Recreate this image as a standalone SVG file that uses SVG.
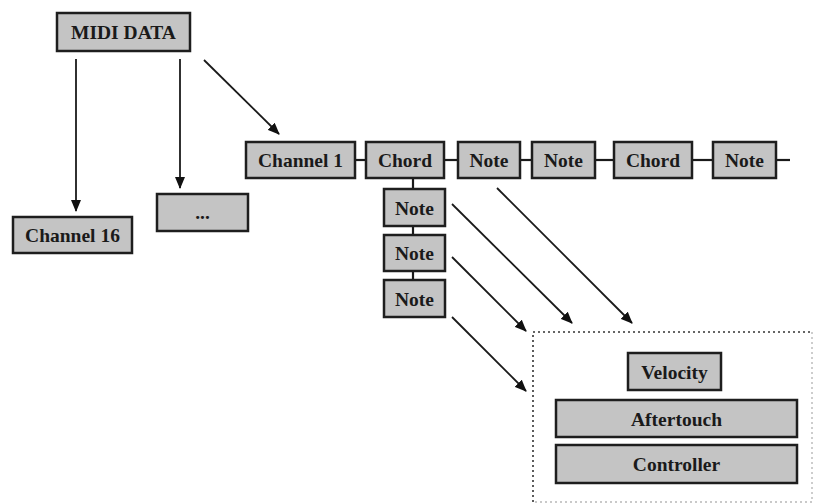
<svg xmlns="http://www.w3.org/2000/svg" width="816" height="504" viewBox="0 0 816 504">
  <style>
    .box { fill: #c4c4c4; stroke: #1e1e1e; stroke-width: 2.5; }
    .lbl { font-family: "Liberation Serif", "Times New Roman", serif; font-weight: bold; font-size: 19.5px; fill: #1a1a1a; text-anchor: middle; dominant-baseline: central; }
    .arrow { stroke: #1a1a1a; stroke-width: 1.8; fill: none; marker-end: url(#head); }
    .link { stroke: #1a1a1a; stroke-width: 2.2; fill: none; }
    .frame { fill: none; stroke: #333; stroke-width: 1.6; stroke-dasharray: 2 3; }
    .frame-faint { fill: none; stroke: #b8b8b8; stroke-width: 1.4; stroke-dasharray: 2 3; }
  </style>
  <defs>
    <marker id="head" viewBox="0 0 12 10" refX="11" refY="5" markerWidth="12" markerHeight="10" markerUnits="userSpaceOnUse" orient="auto">
      <path d="M0,0 L12,5 L0,10 Z" fill="#111"/>
    </marker>
  </defs>

  <!-- connectors -->
  <g id="connectors">
    <line class="arrow" x1="76" y1="59" x2="76" y2="211"/>
    <line class="arrow" x1="180" y1="59" x2="180" y2="188"/>
    <line class="arrow" x1="204" y1="60" x2="279" y2="134"/>
    <!-- channel 1 sequence -->
    <line class="link" x1="355" y1="160" x2="366" y2="160"/>
    <line class="link" x1="444" y1="160" x2="458" y2="160"/>
    <line class="link" x1="520" y1="160" x2="532" y2="160"/>
    <line class="link" x1="595" y1="160" x2="614" y2="160"/>
    <line class="link" x1="692" y1="160" x2="713" y2="160"/>
    <line class="link" x1="776" y1="160" x2="790" y2="160"/>
    <!-- chord stack -->
    <line class="link" x1="413" y1="178" x2="413" y2="189"/>
    <line class="link" x1="413" y1="226" x2="413" y2="235"/>
    <line class="link" x1="413" y1="271" x2="413" y2="280"/>
    <!-- notes to attributes -->
    <line class="arrow" x1="452" y1="204" x2="572" y2="323"/>
    <line class="arrow" x1="497" y1="188" x2="632" y2="323"/>
    <line class="arrow" x1="452" y1="257" x2="526" y2="331"/>
    <line class="arrow" x1="452" y1="317" x2="526" y2="391"/>
  </g>

  <g id="midi-data">
    <rect class="box" x="57" y="13" width="133" height="38"/>
    <text class="lbl" x="123.5" y="32">MIDI DATA</text>
  </g>
  <g id="channel-16">
    <rect class="box" x="13" y="217" width="119" height="36"/>
    <text class="lbl" x="72.5" y="235">Channel 16</text>
  </g>
  <g id="channel-etc">
    <rect class="box" x="157" y="194" width="91" height="37"/>
    <text class="lbl" x="202.5" y="212">...</text>
  </g>
  <g id="channel-1">
    <rect class="box" x="246" y="142" width="109" height="36"/>
    <text class="lbl" x="300.5" y="160">Channel 1</text>
  </g>
  <g id="chord-1">
    <rect class="box" x="366" y="142" width="78" height="36"/>
    <text class="lbl" x="405" y="160">Chord</text>
  </g>
  <g id="note-1">
    <rect class="box" x="458" y="142" width="62" height="36"/>
    <text class="lbl" x="489" y="160">Note</text>
  </g>
  <g id="note-2">
    <rect class="box" x="532" y="142" width="63" height="36"/>
    <text class="lbl" x="563.5" y="160">Note</text>
  </g>
  <g id="chord-2">
    <rect class="box" x="614" y="142" width="78" height="36"/>
    <text class="lbl" x="653" y="160">Chord</text>
  </g>
  <g id="note-3">
    <rect class="box" x="713" y="142" width="63" height="36"/>
    <text class="lbl" x="744.5" y="160">Note</text>
  </g>
  <g id="chord-note-1">
    <rect class="box" x="384" y="189" width="61" height="37"/>
    <text class="lbl" x="414.5" y="208">Note</text>
  </g>
  <g id="chord-note-2">
    <rect class="box" x="384" y="235" width="61" height="36"/>
    <text class="lbl" x="414.5" y="253">Note</text>
  </g>
  <g id="chord-note-3">
    <rect class="box" x="384" y="280" width="61" height="37"/>
    <text class="lbl" x="414.5" y="299">Note</text>
  </g>

  <!-- dotted frame grouping the note attributes -->
  <g id="note-attributes">
    <path class="frame" d="M533,502 V332 H812"/>
    <path class="frame-faint" d="M812,332 V502 H533"/>
  </g>
  <g id="velocity">
    <rect class="box" x="628" y="353" width="93" height="37"/>
    <text class="lbl" x="674.5" y="372">Velocity</text>
  </g>
  <g id="aftertouch">
    <rect class="box" x="556" y="400" width="241" height="37"/>
    <text class="lbl" x="676.5" y="419">Aftertouch</text>
  </g>
  <g id="controller">
    <rect class="box" x="556" y="445" width="241" height="38"/>
    <text class="lbl" x="676.5" y="464">Controller</text>
  </g>
</svg>
